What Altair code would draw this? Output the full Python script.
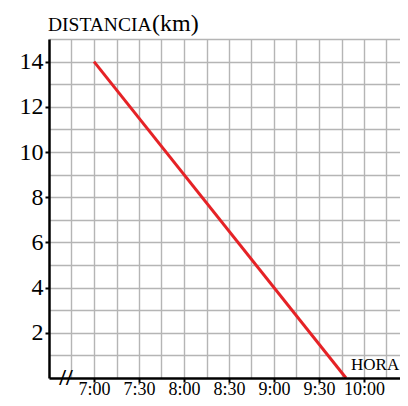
import altair as alt
import pandas as pd

# Data
hora = [7.0, 9.8]          # 7:00 and 9:48
distancia = [14, 0]        # km
x_tick_values = [7.0, 7.5, 8.0, 8.5, 9.0, 9.5, 10.0]
x_grid_values = [6.75, 7.0, 7.25, 7.5, 7.75, 8.0, 8.25, 8.5, 8.75, 9.0, 9.25, 9.5, 9.75, 10.0, 10.25]
y_tick_values = [2, 4, 6, 8, 10, 12, 14]
y_grid_values = [1, 2, 3, 4, 5, 6, 7, 8, 9, 10, 11, 12, 13, 14, 15]

FONT = "Liberation Serif"
RED = "#e52226"
GRID = "#b5b5b5"

df = pd.DataFrame({"hora": hora, "distancia": distancia})

xs = alt.Scale(domain=[6.5, 10.4], nice=False, zero=False)
ys = alt.Scale(domain=[0, 15], nice=False)

grid_x = alt.Axis(values=x_grid_values, grid=True, gridColor=GRID, gridWidth=1.4,
                  labels=False, ticks=False, domain=False, title=None, orient="bottom", zindex=0)
grid_y = alt.Axis(values=y_grid_values, grid=True, gridColor=GRID, gridWidth=1.4,
                  labels=False, ticks=False, domain=False, title=None, orient="left", zindex=0)

lab_x = alt.Axis(values=x_tick_values, grid=False, title=None, orient="bottom", zindex=1,
                 domainColor="black", domainWidth=2.5, tickColor="black", tickWidth=2, tickSize=4,
                 labelFont=FONT, labelFontSize=18, labelColor="black", labelPadding=-2,
                 labelExpr="floor(datum.value) + ':' + (datum.value % 1 == 0.5 ? '30' : '00')")
lab_y = alt.Axis(values=y_tick_values, grid=False, title=None, orient="left", zindex=1,
                 domainColor="black", domainWidth=2.5, tickColor="black", tickWidth=2, tickSize=4,
                 labelFont=FONT, labelFontSize=24, labelColor="black", labelPadding=2)

base = alt.Chart(df)
grid = base.mark_line(opacity=0).encode(
    x=alt.X("hora:Q", scale=xs, axis=grid_x),
    y=alt.Y("distancia:Q", scale=ys, axis=grid_y),
)
line = base.mark_line(color=RED, strokeWidth=3).encode(
    x=alt.X("hora:Q", scale=xs, axis=lab_x),
    y=alt.Y("distancia:Q", scale=ys, axis=lab_y),
)

one = pd.DataFrame({"k": [0]})
t_dist = alt.Chart(one).mark_text(text="DISTANCIA", font=FONT, fontSize=19.5, align="left",
                                   baseline="alphabetic", color="black").encode(
    x=alt.value(-1), y=alt.value(-8))
t_km = alt.Chart(one).mark_text(text="(km)", font=FONT, fontSize=24, align="left",
                                 baseline="alphabetic", color="black").encode(
    x=alt.value(103), y=alt.value(-8))
t_hora = alt.Chart(one).mark_text(text="HORA", font=FONT, fontSize=17, align="left",
                                   baseline="alphabetic", color="black").encode(
    x=alt.value(302), y=alt.value(331))
t_break = alt.Chart(one).mark_text(text="//", font=FONT, fontSize=24, fontWeight="bold",
                                    align="center", baseline="middle", color="black").encode(
    x=alt.value(17), y=alt.value(339))

chart = alt.layer(grid, line, t_dist, t_km, t_hora, t_break).resolve_axis(
    x="independent", y="independent"
).properties(
    width=351, height=339,
    autosize=alt.AutoSizeParams(type="none"),
    padding={"left": 41, "top": 31, "right": 0, "bottom": 20},
).configure_view(stroke=None)

chart.save("out.html", embed_options={"renderer": "svg", "actions": False})
